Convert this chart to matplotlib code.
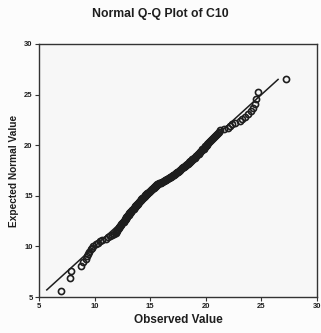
import numpy as np
import matplotlib
matplotlib.use('Agg')
import matplotlib.pyplot as plt
from statistics import NormalDist

# observed values of C10, sorted
observed = [
    7.0, 7.75, 7.85, 8.75, 9.0, 9.2, 9.3, 9.4, 9.5, 9.65,
    9.75, 9.85, 10.1, 10.3, 10.5, 10.7, 11.0, 11.2, 11.35, 11.55,
    11.7, 11.9, 11.95, 12.0, 12.05, 12.1, 12.15, 12.2, 12.25, 12.3,
    12.35, 12.4, 12.5, 12.55, 12.6, 12.65, 12.7, 12.75, 12.8, 12.85,
    12.85, 12.9, 12.95, 13.0, 13.05, 13.1, 13.1, 13.15, 13.2, 13.25,
    13.3, 13.35, 13.4, 13.45, 13.5, 13.55, 13.6, 13.6, 13.65, 13.7,
    13.75, 13.8, 13.85, 13.9, 13.9, 13.95, 14.0, 14.05, 14.1, 14.15,
    14.2, 14.2, 14.25, 14.3, 14.35, 14.4, 14.45, 14.5, 14.5, 14.55,
    14.6, 14.65, 14.7, 14.75, 14.8, 14.85, 14.9, 14.95, 15.0, 15.05,
    15.1, 15.15, 15.2, 15.25, 15.3, 15.35, 15.4, 15.45, 15.5, 15.55,
    15.6, 15.65, 15.7, 15.8, 15.9, 15.95, 16.05, 16.1, 16.2, 16.25,
    16.35, 16.4, 16.5, 16.55, 16.65, 16.7, 16.8, 16.85, 16.95, 17.0,
    17.05, 17.1, 17.2, 17.25, 17.3, 17.35, 17.4, 17.5, 17.55, 17.6,
    17.65, 17.7, 17.8, 17.85, 17.9, 17.95, 18.0, 18.1, 18.15, 18.2,
    18.25, 18.3, 18.4, 18.45, 18.5, 18.55, 18.6, 18.7, 18.75, 18.8,
    18.85, 18.9, 19.0, 19.05, 19.1, 19.15, 19.2, 19.3, 19.35, 19.4,
    19.45, 19.5, 19.6, 19.65, 19.7, 19.8, 19.85, 19.9, 19.95, 20.05,
    20.1, 20.15, 20.2, 20.3, 20.4, 20.5, 20.6, 20.65, 20.75, 20.85,
    20.95, 21.05, 21.1, 21.2, 21.3, 21.6, 22.0, 22.2, 22.35, 22.6,
    23.1, 23.3, 23.5, 23.8, 24.1, 24.25, 24.45, 24.5, 24.65, 27.2,
]
ref_line = [5.7, 26.5]
ticks = [5, 10, 15, 20, 25, 30]

# expected normal values (Blom)
n = len(observed)
mu = 16.05
sd = 3.82
nd = NormalDist(mu, sd)
expected = [nd.inv_cdf((i + 1 - 0.375) / (n + 0.25)) for i in range(n)]

ink = '#1e1e1e'
plt.rcParams['font.family'] = ['Liberation Sans', 'DejaVu Sans']
fig = plt.figure(figsize=(3.21, 3.33), dpi=100, facecolor='#fcfcfc')
ax = fig.add_axes([39/321, 1 - 297/333, 278/321, 253/333])
ax.set_facecolor('#f7f7f7')

ax.plot(ref_line, ref_line, color=ink, lw=1.1, zorder=2)
ax.plot(observed, expected, 'o', ms=4.4, mfc='none', mec=ink, mew=1.2, zorder=3)

ax.set_xlim(5, 30)
ax.set_ylim(5, 30)
ax.set_xticks(ticks)
ax.set_yticks(ticks)
ax.tick_params(direction='out', length=3, width=0.8, color='#333333',
               labelsize=5.5, pad=1.5, labelcolor=ink)
for lab in ax.get_xticklabels() + ax.get_yticklabels():
    lab.set_fontweight('bold')
for s in ax.spines.values():
    s.set_color('#333333')
    s.set_linewidth(1.0)

fig.text(0.5, 1 - 14/333, 'Normal Q-Q Plot of C10', ha='center', va='center',
         fontsize=8.8, fontweight='bold', color=ink)
ax.set_xlabel('Observed Value', fontsize=8.5, fontweight='bold', color=ink, labelpad=3)
ax.set_ylabel('Expected Normal Value', fontsize=7.3, fontweight='bold', color=ink, labelpad=4)

fig.savefig('out.png', dpi=100, facecolor=fig.get_facecolor())
